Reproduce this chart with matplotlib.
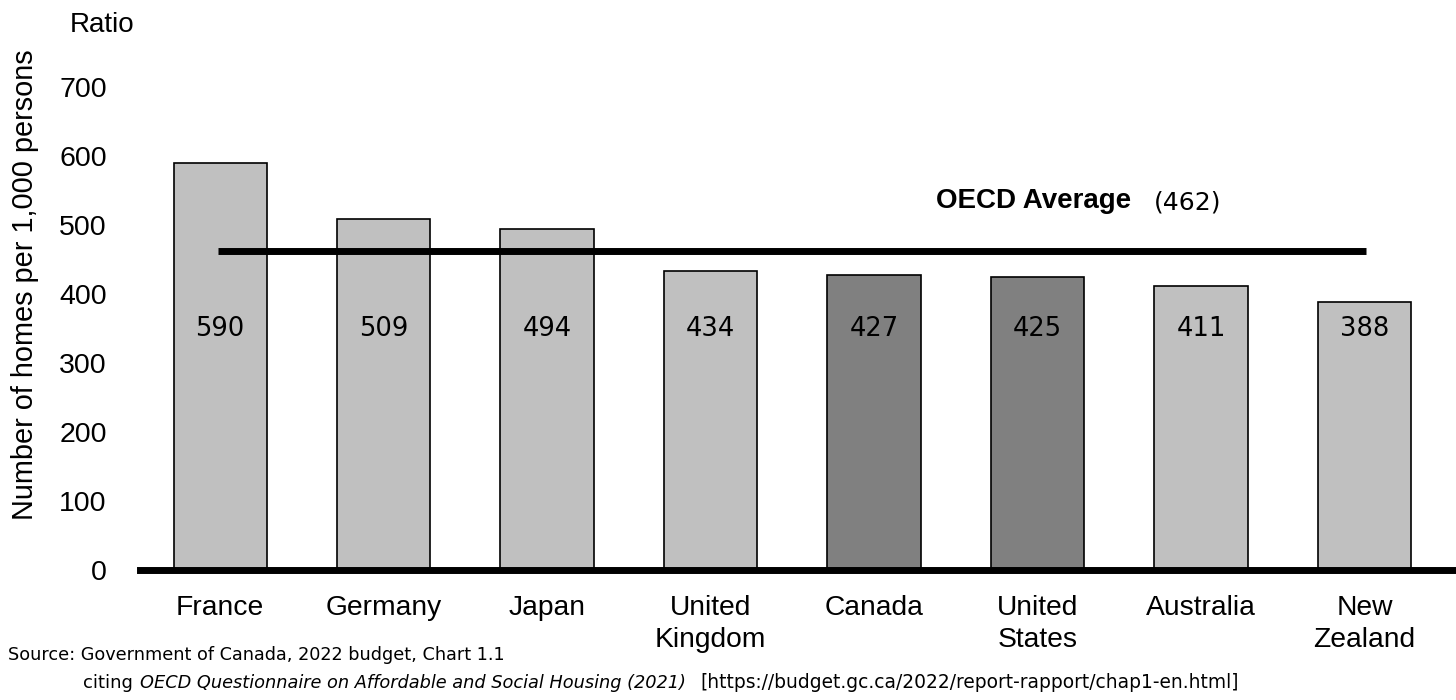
import matplotlib
matplotlib.use("Agg")
import matplotlib.pyplot as plt

countries = ["France", "Germany", "Japan", "United\nKingdom", "Canada",
             "United\nStates", "Australia", "New\nZealand"]
homes = [590, 509, 494, 434, 427, 425, 411, 388]
highlight = [False, False, False, False, True, True, False, False]
oecd_avg = 462
yticks = [0, 100, 200, 300, 400, 500, 600, 700]

fig = plt.figure(figsize=(14.56, 7), dpi=100)
ax = fig.add_axes([140/1456, 130/700, 1316/1456, 483/700])

x = list(range(len(countries)))
colors = ["#808080" if h else "#c0c0c0" for h in highlight]
ax.bar(x, homes, width=0.57, color=colors, edgecolor="black", linewidth=1.2, zorder=2)

for xi, v in zip(x, homes):
    ax.text(xi, 350, str(v), ha="center", va="center", fontsize=18.5,
            family="DejaVu Sans", zorder=4)

ax.plot([x[0] - 0.01, x[-1] + 0.01], [oecd_avg, oecd_avg], color="black", lw=5,
        solid_capstyle="butt", zorder=3)
ax.text(5.57, 535, "OECD Average", ha="right", va="center", fontsize=20,
        fontweight="bold", family="Liberation Sans")
ax.text(5.71, 532, f"({oecd_avg})", ha="left", va="center", fontsize=18,
        family="DejaVu Sans")

ax.set_xlim(-0.49, 7.56)
ax.set_ylim(0, 700)
ax.set_yticks(yticks)
ax.set_yticklabels([str(t) for t in yticks], fontsize=20.5, family="Liberation Sans")
ax.set_xticks(x)
ax.set_xticklabels(countries, fontsize=20.3, family="Liberation Sans", linespacing=1.3,
                   va="top")
ax.tick_params(axis="both", length=0)
ax.tick_params(axis="x", pad=18)
ax.tick_params(axis="y", pad=24)

for s in ["top", "right", "left"]:
    ax.spines[s].set_visible(False)
ax.spines["bottom"].set_linewidth(5)
ax.spines["bottom"].set_zorder(5)

fig.text(25/1456, 1 - 285/700, "Number of homes per 1,000 persons", rotation=90,
         ha="center", va="center", fontsize=20.8, family="Liberation Sans")
fig.text(70/1456, 1 - 25/700, "Ratio", ha="left", va="center", fontsize=20,
         family="Liberation Sans")

src_font = "DejaVu Sans"
fig.text(8/1456, 1 - 655/700, "Source: Government of Canada, 2022 budget, Chart 1.1",
         ha="left", va="center", fontsize=12.7, family=src_font)
fig.text(83/1456, 1 - 683/700, "citing", ha="left", va="center", fontsize=13,
         family=src_font)
fig.text(140/1456, 1 - 683/700, "OECD Questionnaire on Affordable and Social Housing (2021)",
         ha="left", va="center", fontsize=12.75, style="italic", family=src_font)
fig.text(700/1456, 1 - 683/700, "[https://budget.gc.ca/2022/report-rapport/chap1-en.html]",
         ha="left", va="center", fontsize=13.4, family=src_font)

fig.savefig("out.png", dpi=100)
